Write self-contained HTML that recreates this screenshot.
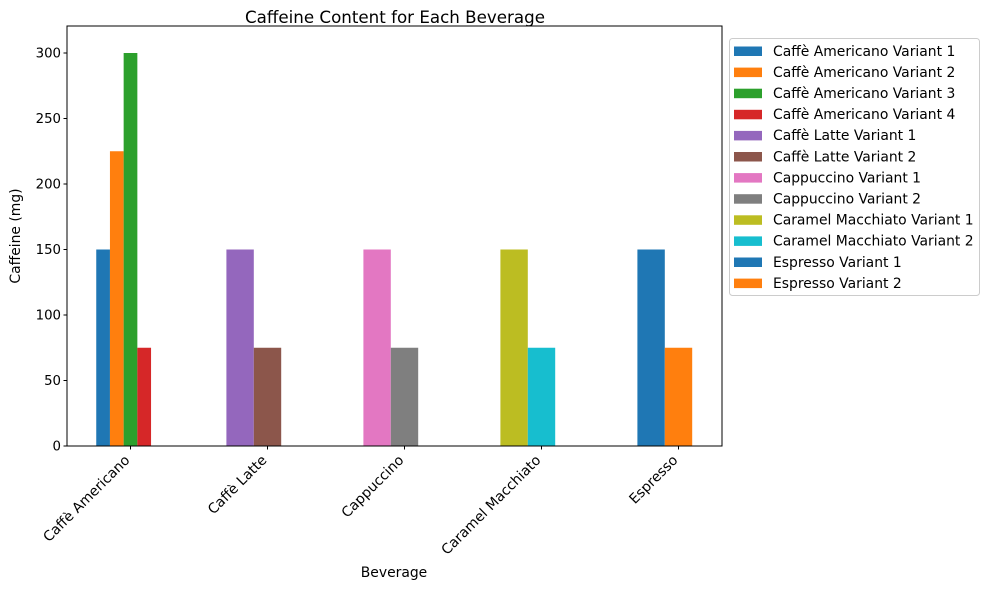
<!DOCTYPE html>
<html><head><meta charset="utf-8"><style>
body{margin:0;background:#fff;}
svg text{font-family:"DejaVu Sans","Liberation Sans",sans-serif;}
</style></head><body>
<svg id="chart" width="990" height="590" xmlns="http://www.w3.org/2000/svg">
<rect width="990" height="590" fill="#fff"/>
<text x="395" y="23" font-size="16.7" text-anchor="middle" fill="#000">Caffeine Content for Each Beverage</text>
<text x="394" y="577" font-size="13.9" text-anchor="middle">Beverage</text>
<text transform="translate(20,236) rotate(-90)" font-size="13.9" text-anchor="middle">Caffeine (mg)</text>
<g id="bars"></g>
<g id="axes"></g>
<g id="legend"></g>
</svg>
<script>
const categories = ["Caffè Americano","Caffè Latte","Cappuccino","Caramel Macchiato","Espresso"];
const seriesNames = ["Caffè Americano Variant 1","Caffè Americano Variant 2","Caffè Americano Variant 3","Caffè Americano Variant 4","Caffè Latte Variant 1","Caffè Latte Variant 2","Cappuccino Variant 1","Cappuccino Variant 2","Caramel Macchiato Variant 1","Caramel Macchiato Variant 2","Espresso Variant 1","Espresso Variant 2"];
const seriesCategory = [0,0,0,0,1,1,2,2,3,3,4,4];
const seriesValues = [150,225,300,75,150,75,150,75,150,75,150,75];
const yTicks = [0,50,100,150,200,250,300];
const colors = ["#1f77b4","#ff7f0e","#2ca02c","#d62728","#9467bd","#8c564b","#e377c2","#7f7f7f","#bcbd22","#17becf","#1f77b4","#ff7f0e"];

const NS="http://www.w3.org/2000/svg";
const L=67,R=722,T=26,B=446;
const yMax=(B-T)/1.31;
const y=v=>B-v/yMax*(B-T);
const unit=137, x0=130.5;
const xc=i=>x0+i*unit;
function mk(tag,attrs,parent){const e=document.createElementNS(NS,tag);for(const k in attrs)e.setAttribute(k,attrs[k]);parent.appendChild(e);return e;}
const bars=document.getElementById('bars');
const axes=document.getElementById('axes');
const leg=document.getElementById('legend');

categories.forEach((c,ci)=>{
  const idx=[];seriesCategory.forEach((sc,si)=>{if(sc===ci)idx.push(si);});
  const n=idx.length, w=0.4/n;
  idx.forEach((si,j)=>{
    const cx=xc(ci)+(j-n/2)*w*unit;
    const r=mk('rect',{x:cx-w*unit/2,y:y(seriesValues[si]),width:w*unit,height:y(0)-y(seriesValues[si]),fill:colors[si]},bars);
    
    
  });
});

const fr=mk('rect',{x:L,y:T,width:R-L,height:B-T,fill:'none',stroke:'#000','stroke-width':1},axes);


yTicks.forEach(t=>{
  mk('line',{x1:L-3.5,x2:L,y1:y(t),y2:y(t),stroke:'#000'},axes);
  const tx=mk('text',{x:L-6,y:y(t)+4.5,'font-size':13.3,'text-anchor':'end'},axes);
  tx.textContent=t;
  
  
});
categories.forEach((c,i)=>{
  mk('line',{x1:xc(i),x2:xc(i),y1:B,y2:B+3.5,stroke:'#000'},axes);
  const tx=mk('text',{transform:`translate(${xc(i)},${B+15}) rotate(-45)`,'font-size':13.9,'text-anchor':'end'},axes);
  tx.textContent=c;
  
  
});

const box=mk('rect',{x:729.5,y:38.5,width:250,height:257,rx:3,fill:'#fff',stroke:'#ccc'},leg);


seriesNames.forEach((s,i)=>{
  const cy=51+i*21.1;
  const g=mk('g',{},leg);
  
  
  mk('rect',{x:734,y:cy-4.5,width:28,height:9.5,fill:colors[i]},g);
  const t=mk('text',{x:773,y:cy+4.8,'font-size':13.9},g);
  t.textContent=s;
});
</script>
</body></html>
